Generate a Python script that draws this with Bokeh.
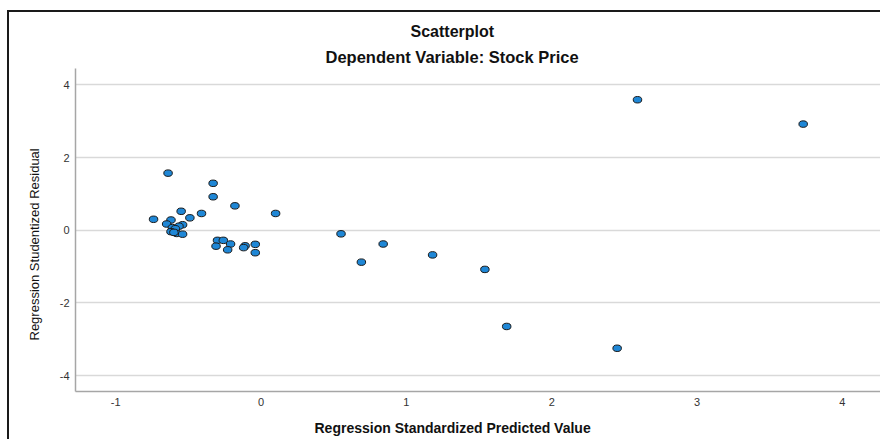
from bokeh.plotting import figure
from bokeh.models import Range1d, Title, FixedTicker, ColumnDataSource, CustomJSTickFormatter
from bokeh.embed import file_html
from bokeh.resources import INLINE

# ---- data ----
pred = [-0.64, -0.33, -0.33, -0.18, 0.10, -0.41, -0.55, -0.49, -0.74, -0.62,
        -0.65, -0.54, -0.565, -0.61, -0.59, -0.62, -0.58, -0.54, -0.60,
        -0.30, -0.26, -0.31, -0.21, -0.23, -0.11, -0.12, -0.04, -0.04,
        0.55, 0.69, 0.84, 1.18, 1.54, 1.69, 2.59, 3.73, 2.45]
resid = [1.57, 1.29, 0.92, 0.67, 0.46, 0.46, 0.52, 0.34, 0.30, 0.28,
         0.17, 0.15, 0.11, 0.07, 0.04, -0.04, -0.09, -0.11, -0.06,
         -0.28, -0.28, -0.44, -0.38, -0.54, -0.43, -0.48, -0.39, -0.62,
         -0.10, -0.88, -0.38, -0.68, -1.08, -2.65, 3.59, 2.92, -3.25]
x_ticks = [-1, 0, 1, 2, 3, 4]
y_ticks = [-4, -2, 0, 2, 4]
title_main = "Scatterplot"
title_sub = "Dependent Variable: Stock Price"
x_label = "Regression Standardized Predicted Value"
y_label = "Regression Studentized Residual"

FONT = "Liberation Sans"
W, H = 880, 440   # the output box runs on past the right and bottom edges

p = figure(width=W, height=H, output_backend="svg", toolbar_location=None,
           x_range=Range1d(-1.277, 4.324), y_range=Range1d(-4.44, 4.45),
           min_border_left=64, min_border_top=56, min_border_bottom=61,
           min_border_right=0)
# frame of the output box: left and top edges only
p.styles = {"margin-left": "9px", "margin-top": "12px",
            "box-shadow": "-2px -2px 0px 0px #1a1a1a"}
p.background_fill_color = "white"
p.border_fill_color = "white"
p.outline_line_color = None

fmt = CustomJSTickFormatter(code="return tick.toFixed(0);")
for ax in (p.xaxis[0], p.yaxis[0]):
    ax.axis_line_color = "#a6a6a6"
    ax.axis_line_width = 1.5
    ax.major_tick_line_color = None
    ax.minor_tick_line_color = None
    ax.major_tick_out = 0
    ax.major_tick_in = 0
    ax.minor_tick_out = 0
    ax.formatter = fmt
    ax.major_label_text_font = FONT
    ax.major_label_text_font_size = "11px"
    ax.major_label_text_color = "#333333"
p.xaxis[0].ticker = FixedTicker(ticks=x_ticks)
p.yaxis[0].ticker = FixedTicker(ticks=y_ticks)
p.xaxis[0].major_label_standoff = 6
p.yaxis[0].major_label_standoff = 6

p.xgrid.grid_line_color = None
p.ygrid.ticker = FixedTicker(ticks=y_ticks)
p.ygrid.grid_line_color = "#d9d9d9"
p.ygrid.grid_line_width = 1.5

src = ColumnDataSource(dict(x=pred, y=resid))
p.ellipse(x="x", y="y", width=8.5, height=6.5, width_units="screen",
          height_units="screen", source=src, fill_color="#1f87d6",
          line_color="#1a1a1a", line_width=1)

# main title on top, sub-title closest to the frame
p.title.text = title_main
p.title.align = "left"
p.title.offset = 335
p.title.standoff = 6
p.title.text_font = FONT
p.title.text_font_size = "16px"
p.title.text_font_style = "bold"
p.title.text_color = "#111111"
p.add_layout(Title(text=title_sub, align="left", offset=250, standoff=6,
                   text_font=FONT, text_font_size="16.5px", text_font_style="bold",
                   text_color="#111111"), "above")
# axis titles
p.add_layout(Title(text=x_label, align="left", offset=239, standoff=19,
                   text_font=FONT, text_font_size="14px", text_font_style="bold",
                   text_color="#111111"), "below")
p.add_layout(Title(text=y_label, align="left", offset=51, standoff=30,
                   text_font=FONT, text_font_size="13px", text_font_style="normal",
                   text_color="#111111"), "left")

open("out.html", "w").write(file_html(p, INLINE))
